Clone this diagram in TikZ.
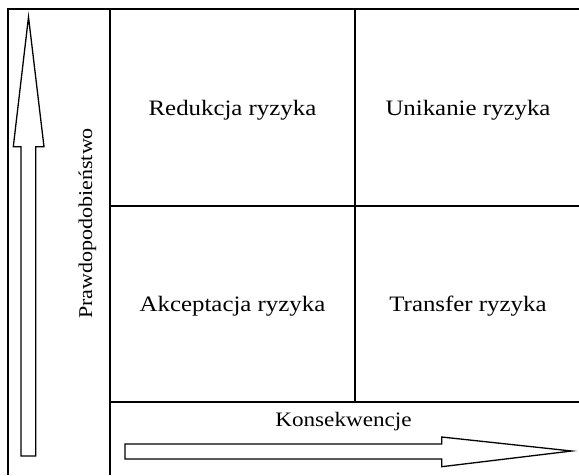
\documentclass[tikz,border=0pt]{standalone}
\usepackage{fontspec}
\setmainfont[FakeStretch=1.13]{Liberation Serif}
\begin{document}
\begin{tikzpicture}[x=1pt,y=-1pt,
  grid/.style={line width=2pt},
  hollowarrow/.style={draw, line width=1.3pt, line join=miter, fill=white},
  label/.style={inner sep=0pt, anchor=base, font=\fontsize{22}{26}\selectfont},
  axislabel/.style={label, font=\fontsize{19.5}{23}\selectfont}]
\useasboundingbox (0,0) rectangle (579,475);
% table frame and dividers
\draw[grid] (579,9) -- (8,9) -- (8,475);
\draw[grid] (110,9) -- (110,475);
\draw[grid] (355,9) -- (355,402);
\draw[grid] (110,205.5) -- (579,205.5);
\draw[grid] (110,402) -- (579,402);
% quadrant labels
\node[label] (red) at (232.5,115) {Redukcja ryzyka};
\node[label] (uni) at (468,115) {Unikanie ryzyka};
\node[label] (akc) at (232.5,311.5) {Akceptacja ryzyka};
\node[label] (tra) at (468,311.5) {Transfer ryzyka};
% axis labels
\node[axislabel, rotate=90] (prob) at (92,223.5) {Prawdopodobieństwo};
\node[axislabel, font=\fontsize{20.5}{24}\selectfont] (kons) at (343.5,426) {Konsekwencje};
% hollow arrows along the axes
\draw[hollowarrow] (28.5,17) -- (44,146.7) -- (35.7,146.7) -- (35.7,456) -- (21,456) -- (21,146.7) -- (13.3,146.7) -- cycle;
\draw[hollowarrow] (571.7,451) -- (441.7,466.7) -- (441.7,459) -- (125,459) -- (125,444) -- (441.7,444) -- (441.7,437) -- cycle;
\end{tikzpicture}
\end{document}
